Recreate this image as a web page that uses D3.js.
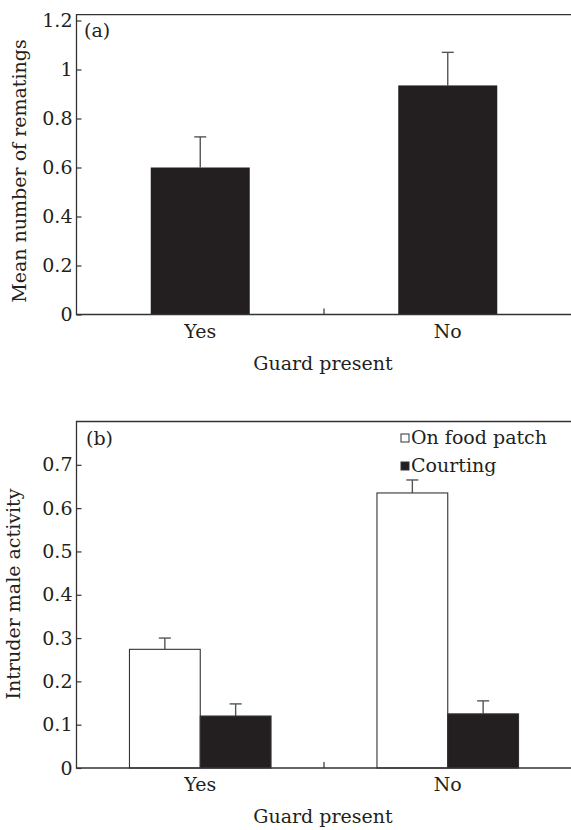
<!DOCTYPE html>
<html>
<head>
<meta charset="utf-8">
<script src="https://cdn.jsdelivr.net/npm/d3@7"></script>
<style>
  body { margin: 0; background: #fff; }
  svg { display: block; }
  text { font-family: "DejaVu Serif", serif; fill: #231f20; }
</style>
</head>
<body>
<svg id="chart" width="571" height="830"></svg>
<script>
// guard treatment
const guardLevels = ['Yes', 'No'];

// panel (a): rematings
const rematingMeans = [0.6, 0.935];
const rematingErr = [0.125, 0.135];
const rematingTicks = [0, 0.2, 0.4, 0.6, 0.8, 1, 1.2];

// panel (b): intruder activity
const activitySeries = ['On food patch', 'Courting'];
const foodPatchMeans = [0.274, 0.635];
const foodPatchErr = [0.026, 0.03];
const courtingMeans = [0.12, 0.125];
const courtingErr = [0.028, 0.03];
const activityTicks = [0, 0.1, 0.2, 0.3, 0.4, 0.5, 0.6, 0.7];

const ink = '#231f20';
const svg = d3.select('#chart');
const left = 76.5, right = 571.5;

const drawFrame = (g, top, bottom) => {
	g.append('path')
		.attr('d', `M${right + 2},${top}H${left}V${bottom}H${right + 2}`)
		.attr('fill', 'none')
		.attr('stroke', '#333')
		.attr('stroke-width', 1.3);
};

const drawYAxis = (g, y, ticks, fmt) => {
	const ax = g.append('g')
		.attr('transform', `translate(${left},0)`)
		.call(d3.axisLeft(y).tickValues(ticks).tickFormat(fmt)
			.tickSizeInner(-5).tickSizeOuter(0).tickPadding(4));
	ax.select('.domain').remove();
	ax.selectAll('line').attr('stroke', '#333').attr('stroke-width', 1.2);
	ax.selectAll('text')
		.attr('font-family', '"DejaVu Serif", serif')
		.attr('font-size', 19)
		.attr('fill', ink);
};

const drawXAxis = (g, x, base) => {
	const ax = g.append('g')
		.attr('transform', `translate(0,${base})`)
		.call(d3.axisBottom(x).tickSize(0).tickPadding(10));
	ax.select('.domain').remove();
	ax.selectAll('text')
		.attr('font-family', '"DejaVu Serif", serif')
		.attr('font-size', 19)
		.attr('fill', ink);
	// divider tick between the two groups
	const mid = (x(guardLevels[0]) + x(guardLevels[1]) + x.bandwidth()) / 2;
	g.append('line')
		.attr('x1', mid).attr('x2', mid)
		.attr('y1', base).attr('y2', base - 6)
		.attr('stroke', '#333').attr('stroke-width', 1.2);
	g.append('text')
		.attr('x', (left + right) / 2 - 1)
		.attr('y', base + 55)
		.attr('text-anchor', 'middle')
		.attr('font-size', 19)
		.text('Guard present');
};

const drawErr = (g, cx, yTop, yBot, half) => {
	g.append('line')
		.attr('x1', cx).attr('x2', cx)
		.attr('y1', yBot).attr('y2', yTop)
		.attr('stroke', '#555').attr('stroke-width', 1.4);
	g.append('line')
		.attr('x1', cx - half).attr('x2', cx + half)
		.attr('y1', yTop).attr('y2', yTop)
		.attr('stroke', '#555').attr('stroke-width', 1.4);
};

// ---------- panel (a) ----------
{
	const top = 14.7, base = 314.5;
	const g = svg.append('g');
	const x = d3.scaleBand().domain(guardLevels).range([left, right])
		.paddingInner(0.6).paddingOuter(0.3);
	const y = d3.scaleLinear().domain([0, (base - top) / 245]).range([base, top]);

	guardLevels.forEach((lvl, i) => {
		const cx = x(lvl) + x.bandwidth() / 2;
		drawErr(g, cx, y(rematingMeans[i] + rematingErr[i]), y(rematingMeans[i]), 6);
	});

	g.selectAll('rect.bar')
		.data(guardLevels)
		.join('rect')
		.attr('class', 'bar')
		.attr('x', d => x(d))
		.attr('width', x.bandwidth())
		.attr('y', (d, i) => y(rematingMeans[i]))
		.attr('height', (d, i) => base - y(rematingMeans[i]))
		.attr('fill', ink);

	drawFrame(g, top, base);
	drawYAxis(g, y, rematingTicks, d => d === 0 || d === 1 ? String(d) : d3.format('.1f')(d));
	drawXAxis(g, x, base);

	g.append('text')
		.attr('x', 84).attr('y', 37)
		.attr('font-size', 19)
		.text('(a)');

	g.append('text')
		.attr('transform', 'translate(26,171) rotate(-90)')
		.attr('text-anchor', 'middle')
		.attr('font-size', 19)
		.text('Mean number of rematings');
}

// ---------- panel (b) ----------
{
	const top = 421.5, base = 768;
	const g = svg.append('g');
	const x0 = d3.scaleBand().domain(guardLevels).range([left, right])
		.paddingInner(0.428).paddingOuter(0.214);
	const x1 = d3.scaleBand().domain(activitySeries).range([0, x0.bandwidth()]);
	const y = d3.scaleLinear().domain([0, 0.8]).range([base, top]);

	const series = [
		{ key: activitySeries[0], means: foodPatchMeans, err: foodPatchErr, fill: '#fff' },
		{ key: activitySeries[1], means: courtingMeans, err: courtingErr, fill: ink },
	];

	series.forEach(s => {
		guardLevels.forEach((lvl, i) => {
			const cx = x0(lvl) + x1(s.key) + x1.bandwidth() / 2;
			drawErr(g, cx, y(s.means[i] + s.err[i]), y(s.means[i]), 6);
		});
		g.append('g')
			.selectAll('rect')
			.data(guardLevels)
			.join('rect')
			.attr('x', d => x0(d) + x1(s.key))
			.attr('width', x1.bandwidth())
			.attr('y', (d, i) => y(s.means[i]))
			.attr('height', (d, i) => base - y(s.means[i]))
			.attr('fill', s.fill)
			.attr('stroke', '#333')
			.attr('stroke-width', 1.1);
	});

	drawFrame(g, top, base);
	drawYAxis(g, y, activityTicks, d => d === 0 ? '0' : d3.format('.1f')(d));
	drawXAxis(g, x0, base);

	g.append('text')
		.attr('x', 86).attr('y', 445)
		.attr('font-size', 19)
		.text('(b)');

	g.append('text')
		.attr('transform', 'translate(20,594) rotate(-90)')
		.attr('text-anchor', 'middle')
		.attr('font-size', 19)
		.text('Intruder male activity');

	// legend
	const legend = g.append('g');
	series.forEach((s, i) => {
		const yy = 444 + i * 28;
		legend.append('rect')
			.attr('x', 401).attr('y', yy - 10)
			.attr('width', 8).attr('height', 8)
			.attr('fill', s.fill)
			.attr('stroke', '#333').attr('stroke-width', 1);
		legend.append('text')
			.attr('x', 411).attr('y', yy)
			.attr('font-size', 19)
			.text(s.key);
	});
}
</script>
</body>
</html>
